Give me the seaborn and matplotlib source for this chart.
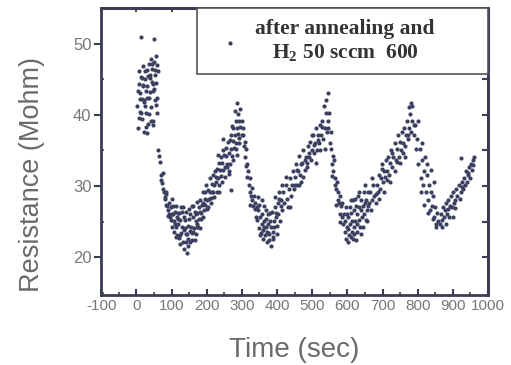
import pandas as pd
import seaborn as sns
import matplotlib.pyplot as plt
from matplotlib.ticker import MultipleLocator

# values (time in s, resistance in Mohm)
t_high = [3, 5, 6.5, 8.2, 10.4, 11.8, 13.3, 15.1, 16.6, 18.4, 20.2, 21.7, 23.5, 25.2, 26.6, 28.3,
          30.1, 31.6, 33.4, 35.2, 36.7, 38.5, 40.3, 41.8, 43.1, 45.4, 46.8, 48.6, 50.3, 51.9,
          53.4, 55.2, 56.7, 58.5, 60.2, 12, 49,
          4.1, 9.3, 14.2, 19.4, 24.1, 29.2, 34.3, 39.1, 44.4, 54.2, 59.3, 16.1, 26.2, 36.4,
          46.3, 56.1, 21.4, 31.3, 41.2, 51.2, 7.4, 22.6, 37.7, 47.5, 57.6]
r_high = [41.2, 38.1, 44.3, 46.2, 40.4, 43.1, 45.3, 42.2, 39.4, 46.8, 44.2, 37.6, 41.3, 45.1,
          43.4, 40.2, 46.3, 44.1, 38.7, 47.2, 42.4, 45.2, 47.8, 41.1, 44.6, 46.4, 39.2, 43.3,
          47.4, 45.6, 42.1, 48.3, 44.4, 40.3, 46.1, 51.0, 50.6,
          43.4, 42.2, 40.3, 44.1, 46.2, 42.3, 45.4, 43.2, 47.1, 46.3, 42.4, 45.2, 38.3, 40.1,
          44.3, 41.4, 42.1, 37.4, 39.2, 43.6, 39.6, 41.8, 45.6, 38.6, 47.0]

t_fall0 = [63, 64.6, 67.2, 69.8, 71.5, 73.7, 75.8, 77.6, 80.1, 81.8, 84.2, 85.6, 88.3, 89.7,
           92.2, 94.1, 95.8, 98.3, 99.6, 74.5, 83.1, 91.4]
r_fall0 = [35.1, 34.2, 33.4, 31.6, 30.9, 30.4, 29.6, 29.1, 28.4, 28.2, 27.3, 29.1, 27.2, 26.6,
           27.6, 26.1, 25.7, 27.1, 25.2, 31.8, 28.9, 25.8]

t_valley1 = [100.5, 102.3, 103.8, 106.1, 107.7, 110.2, 111.9, 114.3, 115.8, 118.2, 119.7, 122.3,
             123.9, 126.2, 127.8, 130.3, 131.9, 134.1, 136.2, 137.8, 140.1, 142.3, 143.8, 146.2,
             148.1, 149.9, 152.3, 153.8, 156.2, 157.7, 160.1, 162.4, 163.9, 166.1, 168.3,
             169.8, 172.2, 173.7, 176.3, 177.9, 180.2, 182.1, 184.3, 185.8, 188.2, 190.1,
             101.4, 105.2, 109.3, 113.1, 117.4, 121.2, 125.1, 129.4, 133.2, 137.1, 141.3,
             145.2, 149.1, 153.3, 157.2, 161.1, 165.4, 169.2, 173.1, 177.3, 181.2, 185.1, 189.3,
             111.6, 124.7, 135.5, 147.3, 158.6, 171.1]
r_valley1 = [26.1, 24.3, 27.2, 25.1, 23.6, 26.4, 24.2, 25.7, 23.1, 26.2, 24.6, 22.7, 25.2, 27.1,
             23.4, 24.3, 22.1, 25.6, 21.2, 24.1, 23.2, 26.3, 20.6, 24.4, 22.6, 25.3, 23.7, 26.1,
             24.2, 22.4, 25.6, 27.2, 24.1, 26.3, 23.2, 25.1, 27.7, 26.2, 24.3, 27.1, 26.3, 28.1,
             25.4, 27.3, 29.2, 27.6,
             28.2, 26.1, 24.7, 27.2, 25.3, 26.2, 23.1, 26.4, 27.1, 25.2, 22.2, 23.3, 26.7,
             22.1, 27.2, 23.6, 22.4, 26.1, 24.2, 25.3, 24.1, 26.2, 25.6,
             22.9, 21.8, 23.8, 21.6, 23.4, 24.6]

t_rise1 = [192.2, 194.1, 195.8, 198.3, 200.1, 201.7, 204.2, 205.8, 208.1, 210.3, 211.8, 214.2,
           216.1, 217.7, 220.2, 222.1, 223.8, 226.2, 228.1, 229.7, 232.3, 234.1, 235.8, 238.2,
           240.1, 241.7, 244.2, 246.1, 247.8, 250.2, 252.1, 253.7, 256.3, 258.1, 259.8, 262.2,
           264.1, 265.7, 268.3, 270.1, 271.8, 274.2, 276.1, 277.7, 280.2, 282.1, 283.8, 286.2,
           288.1, 289.8, 292.2, 294.1, 295.7,
           195.3, 203.2, 211.1, 219.4, 227.2, 235.1, 243.3, 251.2, 259.1, 267.3, 275.2, 283.1,
           291.3, 299.2, 287.1, 279.3, 231.2, 247.1, 263.2, 271.2, 285.1, 293.2]
r_rise1 = [26.6, 29.1, 27.4, 30.2, 28.1, 26.7, 29.4, 28.2, 31.1, 29.2, 27.6, 30.3, 29.1, 31.6,
           30.2, 28.4, 32.1, 30.6, 29.2, 32.4, 31.1, 33.2, 30.1, 32.3, 34.1, 31.4, 33.2, 35.1,
           32.2, 34.3, 32.6, 35.4, 34.2, 33.1, 36.2, 34.6, 32.1, 36.4, 35.2, 37.1, 34.2, 36.3,
           38.1, 35.4, 37.2, 39.1, 36.1, 38.2, 40.1, 37.3, 39.2, 40.8, 38.3,
           28.2, 27.1, 28.3, 29.2, 31.2, 29.1, 30.6, 31.2, 32.6, 33.1, 33.7, 35.2, 36.1,
           37.2, 41.7, 40.6, 34.4, 36.6, 31.7, 38.4, 34.3, 36.8]

t_fall1 = [300.2, 302.1, 303.8, 306.2, 308.1, 309.7, 312.3, 314.1, 315.8, 318.2, 320.1, 321.8,
           324.2, 326.1, 327.7, 330.2, 332.1, 333.8, 336.2, 338.1, 340.2, 268.3, 311.1, 323.1]
r_fall1 = [39.1, 37.2, 38.1, 35.6, 36.2, 34.1, 35.2, 33.1, 31.2, 32.1, 30.2, 31.1, 29.2, 28.6,
           29.7, 28.1, 27.2, 28.6, 26.7, 27.6, 25.7, 29.4, 32.8, 27.4]

t_valley2 = [342.1, 344.2, 345.8, 348.1, 350.2, 351.7, 354.1, 356.2, 357.8, 360.1, 362.2, 363.7,
             366.1, 368.2, 369.8, 372.1, 374.2, 375.7, 378.1, 380.2, 381.8, 384.1, 386.2, 387.7,
             390.1, 392.2, 393.8, 396.1, 398.2, 399.7, 402.1, 404.2, 405.8, 408.1, 410.2,
             345.1, 351.2, 357.1, 363.2, 369.1, 375.2, 381.1, 387.2, 393.1, 399.2, 405.1,
             359.4, 371.6, 377.4, 389.3]
r_valley2 = [27.1, 25.2, 26.6, 24.1, 27.4, 25.6, 23.4, 26.1, 24.6, 22.6, 25.1, 27.2, 23.1, 25.4,
             24.2, 22.1, 26.1, 24.6, 23.2, 25.1, 21.6, 24.2, 26.4, 23.6, 25.1, 24.2, 27.1, 25.6,
             26.2, 24.4, 27.6, 26.1, 28.2, 25.1, 27.2,
             28.4, 23.1, 28.1, 24.2, 26.6, 23.4, 26.2, 22.6, 28.4, 23.2, 29.1,
             23.8, 23.6, 22.4, 22.8]

t_rise2 = [412.2, 415.1, 418.2, 421.1, 424.2, 427.1, 430.2, 433.1, 436.2, 439.1, 442.2, 445.1,
           448.2, 451.1, 454.2, 457.1, 460.2, 463.1, 466.2, 469.1, 472.2, 475.1, 478.2, 481.1,
           484.2, 487.1, 490.2, 493.1, 496.2, 499.1, 502.2, 505.1, 508.2, 511.1, 514.2, 517.1,
           520.2, 523.1, 526.2, 529.1, 532.2, 535.1, 538.2, 541.1, 544.2,
           414.1, 426.2, 438.1, 450.2, 462.1, 474.2, 486.1, 498.2, 510.1, 522.2, 534.1, 540.2,
           545.1, 536.2, 456.1, 468.2, 480.1, 492.2, 504.1, 516.2, 528.1]
r_rise2 = [28.1, 26.6, 29.1, 27.6, 30.1, 28.2, 27.1, 29.6, 31.1, 28.6, 30.2, 32.1, 29.6, 31.2,
           33.1, 30.2, 32.1, 34.2, 31.6, 30.6, 33.2, 35.1, 32.2, 34.1, 33.2, 35.6, 34.1, 36.2,
           33.6, 35.1, 37.2, 34.6, 36.1, 38.2, 35.1, 37.2, 36.1, 38.6, 37.1, 39.2, 36.6, 38.1,
           40.2, 37.6, 39.1,
           30.1, 31.2, 27.1, 30.2, 30.1, 31.2, 32.6, 37.1, 33.2, 35.1, 41.2, 42.1,
           43.0, 35.2, 32.2, 33.1, 33.6, 34.7, 35.8, 36.4, 38.3]

t_fall2 = [546.1, 548.2, 550.1, 552.2, 554.1, 556.2, 558.1, 560.2, 562.1, 564.2, 566.1, 568.2,
           570.1, 572.2, 574.1, 576.2, 578.1, 580.2, 582.1, 584.2, 586.1, 588.2, 590.1,
           555.2, 567.3, 579.4]
r_fall2 = [38.1, 40.2, 36.1, 37.6, 35.2, 33.1, 34.2, 32.1, 33.6, 30.2, 31.1, 29.6, 30.6, 28.1,
           29.2, 27.6, 28.6, 26.1, 27.2, 25.6, 27.6, 24.6, 26.1,
           31.4, 27.3, 24.9]

t_valley3 = [592.1, 594.2, 596.1, 598.2, 600.1, 602.2, 604.1, 606.2, 608.1, 610.2, 612.1, 614.2,
             616.1, 618.2, 620.1, 622.2, 624.1, 626.2, 628.1, 630.2, 632.1, 634.2, 636.1, 638.2,
             640.1, 642.2, 644.1, 646.2, 648.1, 650.2, 652.1, 654.2, 656.1, 658.2, 660.1,
             597.2, 603.1, 609.2, 615.1, 621.2, 627.1, 633.2, 639.1, 645.2, 651.1, 657.2,
             601.3, 611.4, 619.2, 625.4]
r_valley3 = [25.1, 23.6, 22.6, 26.1, 24.2, 25.6, 23.1, 27.1, 24.6, 26.2, 23.6, 25.1, 28.1, 24.2,
             26.6, 25.1, 27.2, 23.6, 26.1, 28.6, 25.2, 27.1, 24.2, 26.6, 28.1, 25.6, 27.2, 29.1,
             26.1, 27.6, 25.2, 28.1, 26.6, 29.1, 27.2,
             27.1, 22.2, 28.1, 22.6, 28.2, 24.6, 29.1, 23.2, 24.2, 30.1, 25.1,
             23.9, 22.9, 23.3, 22.4]

t_rise3 = [662.2, 665.1, 668.2, 671.1, 674.2, 677.1, 680.2, 683.1, 686.2, 689.1, 692.2, 695.1,
           698.2, 701.1, 704.2, 707.1, 710.2, 713.1, 716.2, 719.1, 722.2, 725.1, 728.2, 731.1,
           734.2, 737.1, 740.2, 743.1, 746.2, 749.1, 752.2, 755.1, 758.2, 761.1, 764.2, 767.1,
           770.2, 773.1, 776.2, 779.1, 782.2, 785.1,
           670.1, 690.2, 705.1, 720.2, 735.1, 750.2, 765.1, 775.2, 780.1, 784.2, 772.1, 788.2,
           682.3, 697.4, 712.3, 727.4, 742.3, 757.4]
r_rise3 = [27.6, 29.1, 26.6, 28.1, 30.1, 28.6, 27.6, 30.1, 29.2, 31.6, 29.6, 31.1, 33.1, 30.6,
           32.1, 31.2, 33.6, 32.1, 34.1, 31.6, 33.2, 35.1, 32.6, 34.1, 36.1, 33.6, 35.2, 37.1,
           34.1, 36.2, 35.1, 37.6, 36.1, 38.2, 35.6, 37.1, 39.1, 36.6, 38.2, 40.1, 37.6, 39.2,
           31.1, 28.2, 29.1, 30.6, 32.1, 33.2, 34.1, 41.1, 41.6, 41.2, 37.1, 38.6,
           28.9, 32.4, 30.8, 34.6, 33.4, 34.7]

t_fall3 = [790.1, 793.2, 796.1, 799.2, 802.1, 805.2, 808.1, 811.2, 814.1, 817.2, 820.1, 823.2,
           826.1, 829.2, 832.1, 835.2, 838.1, 841.2, 844.1, 847.2, 850.1, 853.2, 856.1, 859.2,
           800.3, 812.4, 825.3, 838.4, 846.3, 808.4, 830.3, 818.4, 842.3, 852.4]
r_fall3 = [37.1, 38.6, 35.2, 36.6, 33.1, 35.2, 31.1, 33.6, 30.2, 32.1, 34.1, 29.2, 31.6, 28.1,
           30.2, 26.6, 29.1, 27.2, 28.6, 25.6, 27.1, 24.6, 26.2, 25.1,
           39.2, 36.1, 33.1, 32.2, 30.6, 29.1, 26.2, 27.4, 25.3, 24.2]

t_rise4 = [862.1, 865.2, 868.1, 871.2, 874.1, 877.2, 880.1, 883.2, 886.1, 889.2, 892.1, 895.2,
           898.1, 901.2, 904.1, 907.2, 910.1, 913.2, 916.1, 919.2, 922.1, 925.2, 928.1, 931.2,
           934.1, 937.2, 940.1, 943.2, 946.1, 949.2, 952.1, 955.2, 958.1, 961.2, 923.1, 900.2,
           880.3, 869.4, 887.3, 905.4, 926.3, 944.4, 957.3]
r_rise4 = [24.6, 26.1, 25.2, 27.1, 25.6, 26.6, 27.6, 26.1, 28.1, 25.6, 27.2, 28.6, 27.1, 29.1,
           27.6, 28.1, 29.6, 28.6, 30.1, 28.2, 29.1, 30.6, 29.6, 31.1, 30.2, 32.1, 30.6, 31.6,
           32.6, 31.1, 33.1, 32.2, 33.6, 34.1, 34.0, 25.6, 24.6,
           24.2, 26.8, 26.9, 29.8, 31.8, 32.9]

time_s = (t_high + t_fall0 + t_valley1 + t_rise1 + t_fall1 + t_valley2 + t_rise2
          + t_fall2 + t_valley3 + t_rise3 + t_fall3 + t_rise4)
resistance = (r_high + r_fall0 + r_valley1 + r_rise1 + r_fall1 + r_valley2 + r_rise2
              + r_fall2 + r_valley3 + r_rise3 + r_fall3 + r_rise4)
data = pd.DataFrame({'Time': time_s, 'Resistance': resistance})

legend_label = 'after annealing and\nH$_\\mathbf{2}$ 50 sccm  600'

sns.set_style('ticks')
plt.rcParams['font.family'] = ['Liberation Sans', 'DejaVu Sans']
plt.rcParams['axes.unicode_minus'] = False
plt.rcParams['mathtext.fontset'] = 'custom'
plt.rcParams['mathtext.rm'] = 'Liberation Serif:bold'
plt.rcParams['mathtext.bf'] = 'Liberation Serif:bold'

ink = '#3a3d55'
grey = '#6a6a6a'

fig = plt.figure(figsize=(5.11, 3.65), dpi=100)
ax = fig.add_axes([0.198, 0.192, 0.757, 0.786])
sns.scatterplot(data=data, x='Time', y='Resistance', s=9, color='#3c4060',
                linewidth=0, ax=ax, label=legend_label)

ax.set_xlim(-100, 1000)
ax.set_ylim(14.7, 55)
ax.set_xticks(range(-100, 1001, 100))
ax.xaxis.set_minor_locator(MultipleLocator(50))
ax.set_yticks([20, 30, 40, 50])
ax.yaxis.set_minor_locator(MultipleLocator(5))

ax.tick_params(axis='x', which='major', direction='in', length=4, width=1.5,
               color=ink, labelsize=11, labelcolor='#777777', pad=3)
ax.tick_params(axis='x', which='minor', direction='in', length=2.5, width=1.2, color=ink)
ax.tick_params(axis='y', which='major', direction='out', length=5, width=1.5,
               color=ink, labelsize=12, labelcolor='#777777', pad=2)
ax.tick_params(axis='y', which='minor', direction='in', length=2.5, width=1.2, color=ink)

top = ax.secondary_xaxis('top')
top.set_xticks(range(-100, 1001, 100))
top.tick_params(direction='in', length=3, width=1.3, color=ink, labeltop=False)
right = ax.secondary_yaxis('right')
right.set_yticks([20, 25, 30, 35, 40, 45, 50])
right.tick_params(direction='in', length=4, width=1.5, color=ink, labelright=False)
for sp in list(ax.spines.values()) + [top.spines['top'], right.spines['right']]:
    sp.set_linewidth(2)
    sp.set_color(ink)

ax.set_xlabel('Time (sec)', fontsize=20, color=grey, labelpad=17)
ax.set_ylabel('Resistance (Mohm)', fontsize=19.5, color=grey)
ax.yaxis.set_label_coords(-0.145, 0.42)

leg = ax.legend(loc='upper left', bbox_to_anchor=(0.248, 1.0, 0.752, 0.0), mode='expand',
                borderaxespad=0, fancybox=False, framealpha=1, edgecolor='#555555',
                prop={'family': 'Liberation Serif', 'weight': 'bold', 'size': 15.5},
                handlelength=2.1, handletextpad=0.1, borderpad=0.5, markerscale=1.0)
leg.get_frame().set_linewidth(1.2)
leg.get_texts()[0].set_multialignment('center')
leg.get_texts()[0].set_color('#333333')

fig.savefig('out.png', dpi=100)
